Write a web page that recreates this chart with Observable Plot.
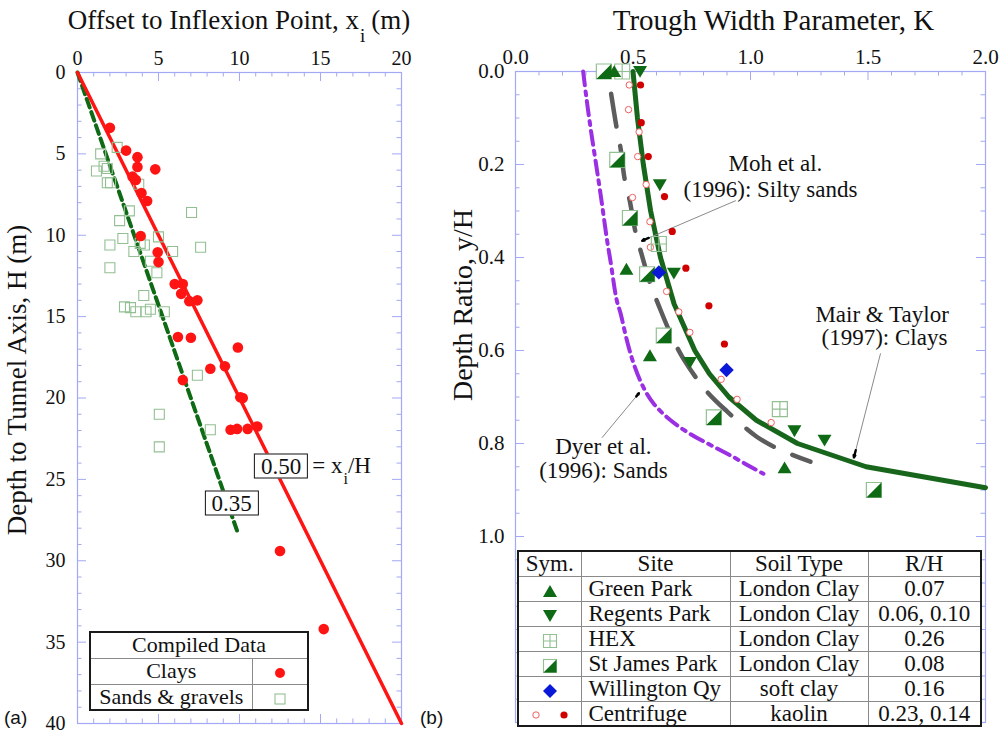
<!DOCTYPE html>
<html><head><meta charset="utf-8">
<script src="https://cdn.jsdelivr.net/npm/d3@7"></script>
<script src="https://cdn.jsdelivr.net/npm/@observablehq/plot@0.6"></script>
<style>
html,body{margin:0;padding:0;background:#fff}
#root{position:relative;width:999px;height:733px;overflow:hidden;font-family:"Liberation Serif","Times New Roman",serif;color:#111}
.abs{position:absolute;white-space:nowrap;line-height:1}
table.lg{position:absolute;border-collapse:collapse;background:#fff;border:2px solid #1a1a1a;font-size:22px;table-layout:fixed}
table.lg td{border:1px solid #8a8a8a;padding:0;text-align:center;line-height:1;white-space:nowrap;overflow:hidden}
table.lg svg{display:inline-block;vertical-align:middle}
.box{position:absolute;border:1.5px solid #111;background:#fff;font-size:23px;line-height:1;padding:0px 6px;transform:translate(-50%,-50%)}
</style></head><body><div id="root"></div>
<script>
// ================= Panel (a) data =================
const clayX = [2.0, 3.0, 3.7, 3.7, 4.8, 3.4, 3.6, 3.95, 4.3, 3.9, 4.95, 5.0, 6.0, 6.5, 6.4, 6.9, 7.4, 6.2, 7.0, 9.9, 8.2, 9.1, 6.5, 10.05, 10.2, 9.45, 9.85, 10.5, 11.1, 12.5, 15.2];
const clayH = [3.4, 4.8, 5.2, 5.8, 5.95, 6.4, 6.6, 7.4, 7.9, 10.05, 11.05, 11.65, 13.0, 13.0, 13.6, 14.05, 14.0, 16.25, 16.3, 16.9, 18.2, 18.05, 18.9, 19.95, 20.0, 21.95, 21.9, 21.9, 21.75, 29.4, 34.2];
const sandX = [2.45, 1.43, 1.64, 1.84, 1.17, 1.84, 2.04, 3.78, 7.04, 3.2, 2.6, 2.8, 2.0, 4.13, 3.87, 5.0, 3.48, 5.87, 7.6, 4.5, 4.9, 2.0, 4.09, 2.9, 3.27, 3.6, 4.23, 4.5, 5.36, 7.4, 5.05, 8.2, 5.05];
const sandH = [4.6, 5.0, 5.76, 5.9, 6.05, 6.77, 6.77, 6.87, 8.6, 8.5, 9.1, 10.2, 10.6, 10.6, 10.5, 10.1, 11.0, 11.0, 10.74, 11.6, 12.3, 12.0, 13.7, 14.4, 14.45, 14.7, 14.7, 14.55, 14.7, 18.6, 21.0, 21.95, 23.0];
const fit50X = [0, 20], fit50H = [0, 40];
const fit35X = [0, 9.9], fit35H = [0, 28.3];
const ratioLabels = ["0.50", "0.35"];
const ratioLabelX = [12.6, 9.55];
const ratioLabelH = [24.2, 26.5];
const aXTicks = [0, 5, 10, 15, 20];
const aYTicks = [0, 5, 10, 15, 20, 25, 30, 35, 40];
const aLegendRows = ["Clays", "Sands & gravels"];

// ================= Panel (b) data =================
const greenParkK = [0.42, 0.472, 0.572, 1.145];
const greenParkR = [0.0, 0.425, 0.611, 0.852];
const regentsK = [0.53, 0.614, 0.674, 0.742, 1.187, 1.315];
const regentsR = [0.0, 0.244, 0.434, 0.626, 0.773, 0.793];
const hexK = [0.454, 0.61, 1.125];
const hexR = [0.0, 0.371, 0.726];
const stJamesK = [0.376, 0.433, 0.487, 0.56, 0.631, 0.844, 1.525];
const stJamesR = [0.0, 0.19, 0.315, 0.436, 0.568, 0.744, 0.90];
const willingtonK = [0.61, 0.898];
const willingtonR = [0.432, 0.642];
const centOpenK = [0.484, 0.481, 0.526, 0.52, 0.556, 0.498, 0.572, 0.574, 0.643, 0.695, 0.742, 0.875, 0.943, 1.088];
const centOpenR = [0.029, 0.082, 0.130, 0.183, 0.243, 0.271, 0.323, 0.378, 0.473, 0.517, 0.561, 0.662, 0.705, 0.755];
const centFillK = [0.532, 0.535, 0.565, 0.634, 0.667, 0.725, 0.823, 0.889];
const centFillR = [0.029, 0.110, 0.183, 0.269, 0.344, 0.423, 0.504, 0.586];
const mairK = [0.5, 0.519, 0.544, 0.575, 0.617, 0.675, 0.763, 0.825, 0.908, 1.025, 1.2, 1.492, 2.0];
const mairR = [0.0, 0.1, 0.2, 0.3, 0.4, 0.5, 0.6, 0.65, 0.7, 0.75, 0.8, 0.85, 0.895];
const mohK = [0.407, 0.43, 0.447, 0.464, 0.487, 0.511, 0.535, 0.574, 0.61, 0.667, 0.716, 0.809, 0.898, 1.028, 1.12, 1.255];
const mohR = [0.048, 0.12, 0.165, 0.23, 0.28, 0.346, 0.39, 0.457, 0.504, 0.572, 0.619, 0.685, 0.73, 0.786, 0.812, 0.839];
const dyerK = [0.288, 0.30, 0.319, 0.34, 0.362, 0.39, 0.404, 0.43, 0.447, 0.475, 0.504, 0.545, 0.589, 0.66, 0.745, 0.84, 0.93, 1.0, 1.055];
const dyerR = [0.0, 0.05, 0.12, 0.19, 0.264, 0.364, 0.407, 0.49, 0.52, 0.58, 0.63, 0.68, 0.715, 0.75, 0.78, 0.806, 0.83, 0.85, 0.865];
const annoLines = ["Moh et al.", "(1996): Silty sands", "Mair & Taylor", "(1997): Clays", "Dyer et al.", "(1996): Sands"];
const annoK = [1.106, 1.085, 1.56, 1.57, 0.374, 0.374];
const annoR = [0.198, 0.255, 0.523, 0.573, 0.807, 0.859];
const arrowFromK = [0.936, 1.553, 0.369];
const arrowFromR = [0.278, 0.607, 0.787];
const arrowToK = [0.539, 1.44, 0.525];
const arrowToR = [0.364, 0.83, 0.692];
const bXTicks = [0, 0.5, 1.0, 1.5, 2.0];
const bYTicks = [0, 0.2, 0.4, 0.6, 0.8, 1.0];
const siteNames = ["Green Park", "Regents Park", "HEX", "St James Park", "Willington Qy", "Centrifuge"];
const soilTypes = ["London Clay", "London Clay", "London Clay", "London Clay", "soft clay", "kaolin"];
const rhValues = ["0.07", "0.06, 0.10", "0.26", "0.08", "0.16", "0.23, 0.14"];

// ================= styles =================
const FRAME = "#a3a9f5";
const RED = "#ff1414";
const DKGREEN = "#0e6a14";
const LTGREEN = "#93c093";
const SERIF = "Liberation Serif";

const zip = (xs, ys) => xs.map((x, i) => ({x, y: ys[i]}));
const rad = s => Math.sqrt(s / Math.PI);
const symTriUp = {draw(c, s) { const r = rad(s); c.moveTo(0, -0.9 * r); c.lineTo(r, 0.8 * r); c.lineTo(-r, 0.8 * r); c.closePath(); }};
const symTriDown = {draw(c, s) { const r = rad(s); c.moveTo(0, 0.9 * r); c.lineTo(r, -0.8 * r); c.lineTo(-r, -0.8 * r); c.closePath(); }};
const symBox = {draw(c, s) { const r = rad(s); c.moveTo(-r, -r); c.lineTo(r, -r); c.lineTo(r, r); c.lineTo(-r, r); c.closePath(); }};
const symBoxCross = {draw(c, s) { const r = rad(s); c.moveTo(-r, -r); c.lineTo(r, -r); c.lineTo(r, r); c.lineTo(-r, r); c.closePath(); c.moveTo(0, -r); c.lineTo(0, r); c.moveTo(-r, 0); c.lineTo(r, 0); }};
const symHalf = {draw(c, s) { const r = rad(s); c.moveTo(r, -r); c.lineTo(r, r); c.lineTo(-r, r); c.closePath(); }};

// frame tick marks (inward), lengths in px converted to data units
function frameTicks(xMinor, xMajor, yMinor, yMajor, xDom, yDom, kx, ky) {
  const mn = 4.5, mj = 9;
  const isMaj = (arr, v) => arr.some(a => Math.abs(a - v) < 1e-6);
  const ly = v => (isMaj(xMajor, v) ? mj : mn) / ky;
  const lx = v => (isMaj(yMajor, v) ? mj : mn) / kx;
  const o = {stroke: FRAME, strokeWidth: 1};
  return [
    Plot.ruleX(xMinor, {x: d => d, y1: yDom[0], y2: d => yDom[0] + ly(d), ...o}),
    Plot.ruleX(xMinor, {x: d => d, y1: yDom[1], y2: d => yDom[1] - ly(d), ...o}),
    Plot.ruleY(yMinor, {y: d => d, x1: xDom[0], x2: d => xDom[0] + lx(d), ...o}),
    Plot.ruleY(yMinor, {y: d => d, x1: xDom[1], x2: d => xDom[1] - lx(d), ...o})
  ];
}

const root = document.getElementById("root");
function place(el, left, top) { el.style.position = "absolute"; el.style.left = left + "px"; el.style.top = top + "px"; root.appendChild(el); }
function addDiv(html, css) { const d = document.createElement("div"); d.className = "abs"; d.innerHTML = html; Object.assign(d.style, css); root.appendChild(d); return d; }

// ================= Panel (a) =================
const aW = 430, aH = 733, aML = 77, aMR = 29, aMT = 72, aMB = 10;
const aKx = (aW - aML - aMR) / 20, aKy = (aH - aMT - aMB) / 40;
const plotA = Plot.plot({
  width: aW, height: aH,
  marginLeft: aML, marginRight: aMR, marginTop: aMT, marginBottom: aMB,
  style: {fontFamily: SERIF, fontSize: "20px", background: "transparent", overflow: "visible", maxWidth: "none", color: "#111"},
  x: {domain: [0, 20], axis: "top", ticks: aXTicks, tickSize: 0, tickPadding: 8, label: null, tickFormat: d => String(d)},
  y: {domain: [0, 40], reverse: true, axis: "left", ticks: aYTicks, tickSize: 0, tickPadding: 12, label: null, tickFormat: d => String(d)},
  marks: [
    ...frameTicks(d3.range(0, 21), aXTicks, d3.range(0, 41), aYTicks, [0, 20], [0, 40], aKx, aKy),
    Plot.frame({stroke: FRAME, strokeWidth: 1.2}),
    Plot.line(zip(fit35X, fit35H), {x: "x", y: "y", stroke: DKGREEN, strokeWidth: 4, strokeDasharray: "9,5"}),
    Plot.line(zip(fit50X, fit50H), {x: "x", y: "y", stroke: RED, strokeWidth: 3.5}),
    Plot.dot(zip(sandX, sandH), {x: "x", y: "y", symbol: symBox, r: 5, stroke: LTGREEN, strokeWidth: 1.1, fill: "none"}),
    Plot.dot(zip(clayX, clayH), {x: "x", y: "y", r: 5.3, fill: RED, stroke: "none"})
  ]
});
place(plotA, 0, 0);

// ratio labels (boxed) positioned via Plot scales
const sxA = plotA.scale("x"), syA = plotA.scale("y");
ratioLabels.forEach((t, i) => {
  const b = document.createElement("div");
  b.className = "box"; b.textContent = t;
  b.style.left = sxA.apply(ratioLabelX[i]) + "px";
  b.style.top = syA.apply(ratioLabelH[i]) + "px";
  root.appendChild(b);
  if (i === 0) {
    const r = b.getBoundingClientRect();
    addDiv('= x<span style="font-size:16px;position:relative;top:11px;margin-left:1px">i</span>/H',
      {left: (r.right + 4) + "px", top: (r.top + 1) + "px", fontSize: "23px"});
  }
});

// legend (a)
const lgA = document.createElement("table");
lgA.className = "lg";
lgA.style.left = "89px"; lgA.style.top = "631px"; lgA.style.width = "218px";
lgA.innerHTML =
  '<colgroup><col style="width:162px"><col style="width:56px"></colgroup>' +
  '<tr style="height:26px"><td colspan="2">Compiled Data</td></tr>' +
  `<tr style="height:26px"><td>${aLegendRows[0]}</td><td><svg width="12" height="12"><circle cx="6" cy="6" r="5" fill="${RED}"/></svg></td></tr>` +
  `<tr style="height:26px"><td>${aLegendRows[1].replace("&", "&amp;")}</td><td><svg width="12" height="12"><rect x="1" y="1" width="10" height="10" fill="none" stroke="${LTGREEN}" stroke-width="1.1"/></svg></td></tr>`;
root.appendChild(lgA);

// ================= Panel (b) =================
const bLeft = 430;
const bW = 569, bH = 733, bML = 85, bMR = 14, bMT = 71, bMB = 11;
const bKx = (bW - bML - bMR) / 2, bKy = (bH - bMT - bMB) / 1.4;
const bXMinor = d3.range(0, 21).map(i => i / 10);
const bYMinor = d3.range(0, 29).map(i => i / 20);
const bYMajor = d3.range(0, 8).map(i => i / 5);
const tipK = arrowToK.map((k, i) => k - 0.07 * (k - arrowFromK[i]));
const tipR = arrowToR.map((r, i) => r - 0.07 * (r - arrowFromR[i]));
const arrows = arrowFromK.map((k, i) => ({x1: k, y1: arrowFromR[i], x2: arrowToK[i], y2: arrowToR[i], tx: tipK[i], ty: tipR[i]}));

const plotB = Plot.plot({
  width: bW, height: bH,
  marginLeft: bML, marginRight: bMR, marginTop: bMT, marginBottom: bMB,
  style: {fontFamily: SERIF, fontSize: "21px", background: "transparent", overflow: "visible", maxWidth: "none", color: "#111"},
  x: {domain: [0, 2], axis: "top", ticks: bXTicks, tickSize: 0, tickPadding: 8, label: null, tickFormat: d3.format(".1f")},
  y: {domain: [0, 1.4], reverse: true, axis: "left", ticks: bYTicks, tickSize: 0, tickPadding: 11, label: null, tickFormat: d3.format(".1f")},
  marks: [
    ...frameTicks(bXMinor, bXTicks, bYMinor, bYMajor, [0, 2], [0, 1.4], bKx, bKy),
    Plot.frame({stroke: FRAME, strokeWidth: 1.2}),
    Plot.line(zip(dyerK, dyerR), {x: "x", y: "y", stroke: "#9b2fe3", strokeWidth: 4, strokeDasharray: "14,6,4,6", curve: "catmull-rom"}),
    Plot.line(zip(mohK, mohR), {x: "x", y: "y", stroke: "#5c5c5c", strokeWidth: 4.5, strokeDasharray: "33,20", curve: "catmull-rom"}),
    Plot.line(zip(mairK, mairR), {x: "x", y: "y", stroke: "#17661b", strokeWidth: 5}),
    Plot.arrow(arrows, {x1: "x1", y1: "y1", x2: "x2", y2: "y2", stroke: "#8a8a8a", strokeWidth: 1, headLength: 0}),
    Plot.arrow(arrows, {x1: "tx", y1: "ty", x2: "x2", y2: "y2", stroke: "#000", strokeWidth: 2.4, headLength: 15, headAngle: 40}),
    Plot.text(annoLines, {x: (d, i) => annoK[i], y: (d, i) => annoR[i], text: d => d, fontSize: 23, fontFamily: SERIF, fill: "#111", textAnchor: "middle", lineAnchor: "middle"}),
    Plot.dot(zip(centOpenK, centOpenR), {x: "x", y: "y", r: 3.2, fill: "#fff", stroke: "#f06060", strokeWidth: 1}),
    Plot.dot(zip(centFillK, centFillR), {x: "x", y: "y", r: 3.6, fill: "#d10000", stroke: "none"}),
    Plot.dot(zip(stJamesK, stJamesR), {x: "x", y: "y", symbol: symBox, r: 7.5, fill: "#fff", stroke: LTGREEN, strokeWidth: 1.2}),
    Plot.dot(zip(stJamesK, stJamesR), {x: "x", y: "y", symbol: symHalf, r: 7.5, fill: DKGREEN, stroke: "none"}),
    Plot.dot(zip(hexK, hexR), {x: "x", y: "y", symbol: symBoxCross, r: 7.5, fill: "none", stroke: LTGREEN, strokeWidth: 1.2}),
    Plot.dot(zip(greenParkK, greenParkR), {x: "x", y: "y", symbol: symTriUp, r: 7, fill: DKGREEN, stroke: "none"}),
    Plot.dot(zip(regentsK, regentsR), {x: "x", y: "y", symbol: symTriDown, r: 7, fill: DKGREEN, stroke: "none"}),
    Plot.dot(zip(willingtonK, willingtonR), {x: "x", y: "y", symbol: "diamond2", r: 6.5, fill: "#0a18d8", stroke: "none"})
  ]
});
place(plotB, bLeft, 0);

// legend table (b)
const symSvgs = [
  `<svg width="16" height="14"><path d="M8,1L15,13L1,13Z" fill="${DKGREEN}"/></svg>`,
  `<svg width="16" height="14"><path d="M8,13L15,1L1,1Z" fill="${DKGREEN}"/></svg>`,
  `<svg width="16" height="16"><path d="M1.5,1.5H14.5V14.5H1.5ZM8,1.5V14.5M1.5,8H14.5" fill="none" stroke="${LTGREEN}" stroke-width="1.1"/></svg>`,
  `<svg width="16" height="16"><rect x="1.5" y="1.5" width="13" height="13" fill="#fff" stroke="${LTGREEN}" stroke-width="1.1"/><path d="M14.5,1.5V14.5H1.5Z" fill="${DKGREEN}"/></svg>`,
  `<svg width="16" height="16"><path d="M8,1L15,8L8,15L1,8Z" fill="#0a18d8"/></svg>`,
  `<svg width="44" height="10"><circle cx="8" cy="5" r="3.2" fill="#fff" stroke="#f06060"/><circle cx="36" cy="5" r="3.6" fill="#d10000"/></svg>`
];
const lgB = document.createElement("table");
lgB.className = "lg";
lgB.style.left = "517px"; lgB.style.top = "550px"; lgB.style.width = "463px"; lgB.style.fontSize = "23px";
lgB.innerHTML =
  '<colgroup><col style="width:63px"><col style="width:149px"><col style="width:138px"><col style="width:113px"></colgroup>' +
  '<tr style="height:25px"><td>Sym.</td><td>Site</td><td>Soil Type</td><td>R/H</td></tr>' +
  siteNames.map((s, i) => `<tr style="height:25px"><td>${symSvgs[i]}</td><td style="text-align:left;padding-left:7px">${s}</td><td>${soilTypes[i]}</td><td>${rhValues[i]}</td></tr>`).join("");
root.appendChild(lgB);

// titles and axis labels
addDiv('Offset to Inflexion Point, x<span style="font-size:19px;position:relative;top:13px;margin-left:1px;margin-right:6px">i</span>(m)',
  {left: "0px", width: "478px", textAlign: "center", top: "7px", fontSize: "27px"});
addDiv('Trough Width Parameter, K', {left: "550px", width: "447px", textAlign: "center", top: "6px", fontSize: "29px"});
addDiv('Depth to Tunnel Axis, H (m)', {left: "17px", top: "380px", fontSize: "27px", transform: "translate(-50%,-50%) rotate(-90deg)"});
addDiv('Depth Ratio, y/H', {left: "463px", top: "305px", fontSize: "28px", transform: "translate(-50%,-50%) rotate(-90deg)"});
addDiv('(a)', {left: "4px", top: "708px", fontSize: "19px", fontFamily: "Liberation Sans"});
addDiv('(b)', {left: "420px", top: "708px", fontSize: "19px", fontFamily: "Liberation Sans"});
</script></body></html>
